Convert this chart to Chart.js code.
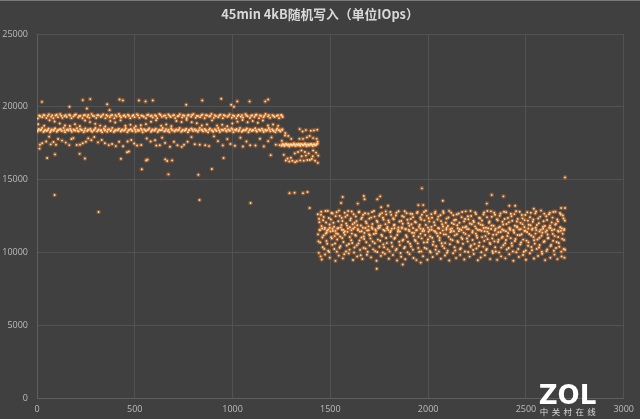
<!DOCTYPE html>
<html lang="zh">
<head>
<meta charset="UTF-8">
<title>45min 4kB随机写入</title>
<script src="https://cdn.jsdelivr.net/npm/chart.js"></script>
<style>
  html, body { margin: 0; padding: 0; background: #404040; }
  #wrap { width: 640px; height: 419px; }
</style>
</head>
<body>
<div id="wrap"><canvas id="chart" width="640" height="419"></canvas></div>
<script>
const titleText = '45min 4kB随机写入（单位IOps）';
const xTicks = [0, 500, 1000, 1500, 2000, 2500, 3000];
const yTicks = [0, 5000, 10000, 15000, 20000, 25000];

// isolated points, read one by one
const highOutliers = [[25,20340],[166,20000],[234,20460],[255,19880],[272,20530],[359,20180],[371,19770],[422,20500],[439,20440],[521,20440],[555,20370],[592,20440],[763,20140],[845,20440],[942,20550],[993,20140],[1007,20000],[1024,20370],[1087,20370],[1167,20370],[1182,20500]];
const lowOutliers = [[13,17130],[52,16480],[92,16730],[218,16770],[245,16450],[429,16430],[460,16880],[470,16930],[558,16320],[565,16370],[536,15710],[656,16390],[666,16280],[691,16320],[672,15360],[825,15330],[894,15730],[954,16480],[1195,16680],[90,13940],[315,12770],[831,13600],[1092,13390],[1291,14070],[1317,14100],[1360,14070],[1383,14150],[1394,13050]];
const blockOutliers = [[1555,13400],[1563,13800],[1640,13350],[1671,13870],[1675,13650],[1740,13650],[1755,13850],[1760,13100],[1795,13200],[1950,13250],[1968,14400],[1975,13250],[2075,13550],[2300,13350],[2325,13950],[2385,13850],[2415,13200],[2445,13200],[2540,13000],[2680,13050],[2700,13050],[2700,15150],[2697,9640],[1737,8880],[1870,9170],[1962,9300]];

// thick band around 18400
const lowerBand = [[2,18300],[9,18480],[17,18380],[26,18540],[33,18270],[42,18430],[50,18340],[59,18510],[67,18250],[75,18450],[84,18360],[93,18530],[101,18290],[110,18410],[118,18480],[127,18330],[136,18550],[144,18260],[153,18420],[161,18370],[170,18500],[178,18280],[187,18440],[196,18350],[204,18530],[213,18300],[221,18470],[230,18390],[239,18260],[247,18520],[256,18340],[264,18430],[273,18490],[282,18280],[290,18380],[299,18540],[307,18310],[316,18450],[325,18360],[333,18250],[342,18510],[350,18400],[359,18290],[368,18470],[376,18340],[385,18550],[393,18270],[402,18420],[411,18380],[419,18500],[428,18300],[436,18440],[445,18350],[454,18530],[462,18260],[471,18410],[479,18480],[488,18320],[497,18550],[505,18290],[514,18430],[522,18370],[531,18510],[540,18250],[548,18460],[557,18340],[565,18400],[574,18530],[583,18290],[591,18440],[600,18360],[608,18500],[617,18270],[626,18420],[634,18390],[643,18540],[651,18310],[660,18470],[669,18340],[677,18260],[686,18510],[694,18400],[703,18300],[712,18450],[720,18370],[729,18540],[737,18280],[746,18430],[755,18350],[763,18490],[772,18260],[780,18410],[789,18520],[798,18330],[806,18460],[815,18380],[823,18290],[832,18550],[841,18420],[849,18310],[858,18480],[866,18360],[875,18250],[884,18510],[892,18400],[901,18290],[909,18470],[918,18340],[927,18540],[935,18270],[944,18430],[952,18380],[961,18500],[970,18300],[978,18440],[987,18350],[995,18530],[1004,18260],[1013,18410],[1021,18480],[1030,18320],[1038,18550],[1047,18290],[1056,18430],[1064,18370],[1073,18510],[1081,18250],[1090,18460],[1099,18340],[1107,18400],[1116,18530],[1124,18290],[1133,18440],[1142,18360],[1150,18500],[1159,18270],[1167,18420],[1176,18390],[1185,18540],[1193,18310],[1202,18470],[1210,18340],[1219,18260],[1228,18510],[1236,18400],[1245,18300],[1253,18450]];
const lowerBandFill = [[5,18400],[21,18420],[38,18360],[55,18410],[71,18350],[88,18440],[105,18380],[122,18420],[140,18370],[157,18440],[174,18390],[191,18410],[208,18360],[225,18430],[243,18380],[260,18400],[277,18350],[294,18440],[312,18390],[329,18410],[346,18370],[363,18430],[380,18400],[398,18360],[415,18420],[432,18380],[450,18430],[467,18370],[484,18400],[501,18420],[518,18360],[536,18410],[553,18390],[570,18440],[587,18370],[604,18420],[622,18380],[639,18400],[656,18360],[673,18430],[690,18400],[708,18380],[725,18420],[742,18360],[759,18410],[776,18390],[794,18440],[811,18370],[828,18400],[845,18420],[862,18380],[880,18430],[897,18360],[914,18410],[931,18390],[948,18420],[966,18370],[983,18400],[1000,18440],[1017,18380],[1034,18410],[1052,18360],[1069,18430],[1086,18390],[1103,18410],[1120,18370],[1138,18420],[1155,18400],[1172,18360],[1189,18430],[1206,18390],[1224,18410],[1241,18370],[1255,18420]];

// upper band around 19300
const upperBand = [[4,19200],[16,19350],[27,19280],[38,19420],[48,19230],[61,19480],[72,19310],[84,19210],[95,19400],[107,19290],[118,19500],[130,19240],[141,19370],[152,19300],[165,19450],[176,19220],[187,19340],[199,19480],[211,19270],[222,19390],[233,19210],[245,19440],[257,19320],[268,19250],[279,19500],[292,19360],[303,19230],[315,19420],[326,19300],[338,19470],[350,19220],[361,19380],[372,19280],[384,19440],[395,19210],[407,19340],[419,19510],[430,19260],[442,19390],[453,19300],[465,19450],[477,19220],[488,19370],[499,19290],[511,19480],[523,19240],[534,19400],[546,19320],[557,19210],[569,19460],[580,19350],[592,19270],[603,19430],[615,19220],[626,19510],[638,19310],[649,19380],[661,19240],[672,19470],[684,19300],[696,19410],[707,19220],[719,19350],[730,19490],[742,19270],[753,19390],[765,19230],[776,19440],[788,19320],[800,19500],[811,19250],[823,19370],[834,19290],[846,19460],[857,19210],[869,19400],[881,19330],[892,19510],[904,19240],[915,19360],[927,19280],[938,19450],[950,19220],[961,19390],[973,19310],[985,19480],[996,19250],[1008,19370],[1019,19210],[1031,19440],[1042,19320],[1054,19270],[1066,19500],[1077,19350],[1089,19230],[1100,19420],[1112,19300],[1123,19460],[1135,19220],[1146,19380],[1158,19280],[1169,19510],[1181,19340],[1192,19240],[1204,19430],[1215,19300],[1227,19390],[1238,19220],[1248,19440],[1256,19300]];
const upperBandFill = [[11,19400],[33,19430],[55,19380],[78,19420],[101,19450],[124,19390],[147,19430],[170,19400],[193,19440],[216,19370],[239,19410],[262,19440],[285,19390],[308,19420],[331,19380],[355,19440],[378,19400],[401,19430],[424,19370],[447,19420],[470,19390],[493,19440],[517,19410],[540,19380],[563,19430],[586,19400],[609,19370],[632,19440],[655,19410],[678,19390],[701,19430],[724,19370],[747,19420],[770,19400],[793,19440],[817,19380],[840,19410],[863,19430],[886,19370],[909,19420],[932,19400],[955,19440],[979,19390],[1002,19410],[1025,19370],[1048,19430],[1071,19400],[1094,19380],[1117,19440],[1140,19410],[1163,19390],[1186,19430],[1209,19370],[1232,19420],[1252,19400]];

// loose points between the two bands
const midPoints = [[6,18800],[37,18700],[64,19080],[90,18990],[116,18850],[143,18720],[168,18680],[194,18800],[219,18670],[246,19060],[271,18950],[298,18830],[323,18710],[349,18650],[375,19030],[400,18920],[427,19070],[452,18700],[478,18770],[505,18660],[531,18730],[557,18810],[583,18970],[609,19080],[635,18700],[661,18780],[687,18670],[713,19020],[739,18960],[765,19100],[791,18940],[817,18870],[843,18720],[869,18780],[895,19070],[921,18710],[947,18770],[973,18660],[999,18850],[1025,18980],[1051,19090],[1077,18940],[1103,19020],[1129,18900],[1155,19060],[1181,18720],[1207,18780],[1233,18690]];

// lower cloud, 17200 to 18100
const lowCloud = [[15,17400],[27,17500],[47,17620],[62,17950],[70,17420],[84,17580],[97,17400],[108,17790],[128,17680],[147,17540],[165,17370],[176,17790],[186,17850],[203,17380],[220,17400],[234,17500],[250,17600],[262,17830],[278,17710],[293,17930],[312,17560],[331,17720],[347,17500],[367,17370],[384,17440],[403,17300],[420,17600],[440,17290],[463,17620],[482,17720],[497,17480],[512,17340],[533,17380],[561,17820],[581,17620],[604,17700],[610,17340],[628,17360],[640,17880],[655,17520],[680,17260],[700,17600],[718,17360],[740,17250],[752,17390],[770,17600],[790,17920],[807,17430],[832,17400],[860,17360],[880,17300],[905,17970],[925,17640],[950,17350],[973,17780],[989,17440],[1012,17320],[1040,17880],[1053,17270],[1071,17620],[1090,17360],[1117,17340],[1140,17810],[1160,17280],[1182,17640],[1199,17900],[1221,17400],[1240,17370],[1252,17660],[1268,18030]];

// step between 1250 and 1440
const stepFlat = [[1250,17320],[1254,17400],[1258,17440],[1262,17360],[1266,17300],[1270,17410],[1274,17470],[1278,17390],[1282,17360],[1286,17430],[1290,17270],[1294,17380],[1298,17430],[1302,17390],[1306,17340],[1310,17420],[1314,17490],[1318,17380],[1322,17300],[1326,17430],[1330,17400],[1334,17360],[1338,17460],[1342,17390],[1346,17310],[1350,17440],[1354,17420],[1358,17370],[1362,17350],[1366,17430],[1370,17480],[1374,17390],[1378,17290],[1382,17420],[1386,17410],[1390,17350],[1394,17360],[1398,17440],[1402,17450],[1406,17380],[1410,17300],[1414,17420],[1418,17430],[1422,17360],[1426,17370],[1430,17440],[1434,17470]];
const stepCloud = [[1262,16700],[1272,16310],[1281,16450],[1290,16240],[1298,16500],[1306,16290],[1318,16800],[1329,16270],[1335,16900],[1343,18470],[1346,16320],[1352,17000],[1358,18300],[1364,16300],[1370,16900],[1375,18400],[1382,16350],[1389,16800],[1394,18000],[1400,18350],[1405,16420],[1412,17000],[1416,18380],[1422,16300],[1427,16850],[1430,17800],[1433,18420],[1436,16150],[1438,16650],[1320,16200],[1353,16600],[1375,16650],[1395,16350],[1410,16600],[1300,17800],[1285,18000],[1270,18200],[1342,17800],[1360,17800],[1380,17900],[1412,17850],[1435,17600]];

// main lower block, 1440 to 2700
const blockA = [[1436,12620],[1437,11240],[1441,9970],[1442,12310],[1447,11530],[1448,10680],[1453,12790],[1455,11810],[1456,9510],[1461,10350],[1465,11160],[1466,12430],[1472,11690],[1473,9860],[1478,12050],[1480,10790],[1481,11370],[1487,12850],[1489,10110],[1490,11580],[1496,11920],[1497,9640],[1503,12260],[1504,11040],[1510,10520],[1511,12680],[1513,11470],[1519,11760],[1520,10230],[1526,9420],[1527,12490],[1529,11310],[1535,10890],[1536,11640],[1541,12140],[1543,9780],[1544,12870],[1550,11090],[1551,10430],[1557,11880],[1558,12370],[1564,9590],[1566,11550],[1567,10710],[1573,12720],[1574,11220],[1580,10060],[1581,11990],[1587,12560],[1588,11410],[1594,9930],[1595,10580],[1600,11730],[1602,12210],[1607,10840],[1609,12810],[1610,11290],[1616,9480],[1617,11620],[1623,10340],[1624,12040],[1630,12470],[1631,11150],[1637,9720],[1638,11860],[1644,10610],[1645,12750],[1651,11430],[1652,10170],[1658,12290],[1659,11020],[1664,9550],[1666,11700],[1667,12580],[1673,10920],[1674,11340],[1680,10260],[1681,12120],[1687,9840],[1688,11510],[1694,12660],[1695,11790],[1701,10470],[1702,11180],[1708,9660],[1709,12390],[1715,11950],[1716,10750],[1722,11260],[1723,12840],[1729,10090],[1730,11570],[1736,9430],[1737,12180],[1743,10880],[1744,11660],[1750,12510],[1751,10390],[1757,11840],[1758,9760],[1764,12700],[1765,11120],[1771,10550],[1772,12250],[1778,11490],[1779,9900],[1785,10990],[1786,12610],[1792,11740],[1793,10210],[1799,9570],[1800,12060],[1806,11380],[1807,12770],[1813,10660],[1814,11630],[1820,9820],[1821,12340],[1827,10940],[1828,11900],[1834,10140],[1835,12530],[1841,9450],[1842,11200],[1848,11710],[1849,12830],[1855,10500],[1856,11440],[1862,9700],[1863,12160],[1869,10810],[1870,11970],[1876,12440],[1877,10290],[1883,9530],[1884,11590],[1890,12690],[1891,11060],[1897,10730],[1898,12010],[1904,11830],[1905,9880],[1911,12300],[1912,10410],[1918,11350],[1919,12640],[1925,9620],[1926,11130],[1932,10860],[1933,12110],[1939,11520],[1940,9470],[1946,12780],[1947,10620],[1953,11770],[1954,10040],[1960,12400],[1961,11280]];
const blockB = [[1967,10960],[1968,12590],[1974,9740],[1975,11610],[1981,12200],[1982,10320],[1988,11890],[1989,12860],[1995,10700],[1996,9500],[2002,11420],[2003,12350],[2009,10080],[2010,11100],[2016,12630],[2017,11750],[2023,9680],[2024,10530],[2030,12070],[2031,11480],[2037,12800],[2038,10190],[2044,11320],[2045,9910],[2051,11680],[2052,12460],[2058,10830],[2059,11000],[2065,9560],[2066,12150],[2072,11930],[2073,10440],[2079,12710],[2080,11240],[2086,9790],[2087,10640],[2093,11560],[2094,12320],[2100,10120],[2101,11810],[2107,12850],[2108,9440],[2114,11390],[2115,10900],[2121,12020],[2122,11650],[2128,9950],[2129,12550],[2135,10360],[2136,11170],[2142,12240],[2143,9610],[2149,11860],[2150,10770],[2156,12670],[2157,11460],[2163,10220],[2164,9830],[2170,11030],[2171,12420],[2177,11720],[2178,10590],[2184,12130],[2185,9520],[2191,11270],[2192,12820],[2198,10950],[2199,11600],[2205,10030],[2206,12280],[2212,9710],[2213,11980],[2219,10480],[2220,12500],[2226,11360],[2227,10850],[2233,9890],[2234,12090],[2240,11790],[2241,12740],[2247,10270],[2248,11140],[2254,9460],[2255,11540],[2261,12380],[2262,10680],[2268,11910],[2269,9650],[2275,12190],[2276,11050],[2282,10400],[2283,12600],[2289,11450],[2290,9800],[2296,11700],[2297,10160],[2303,12840],[2304,10910],[2310,11300],[2311,12040],[2317,9540],[2318,10570],[2324,11850],[2325,12450],[2331,9960],[2332,11210],[2338,12730],[2339,10760],[2345,11620],[2346,10060],[2352,12270],[2353,9490],[2359,11380],[2360,10870],[2366,12520],[2367,11770],[2373,9730],[2374,10330],[2380,12100],[2381,11080],[2387,11510],[2388,12790],[2394,10630],[2395,9590],[2401,11950],[2402,10200],[2408,12360],[2409,11330],[2415,9870],[2416,11670],[2422,10980],[2423,12650],[2429,10450],[2430,12170],[2436,9430],[2437,11490],[2443,11830],[2444,10780],[2450,12830],[2451,10010],[2457,11190],[2458,12300],[2464,9690],[2465,11580],[2471,10540],[2472,12030],[2478,11250],[2479,12570],[2485,9820],[2486,10880],[2492,11740],[2493,12220],[2499,10130],[2500,9500],[2506,11400],[2507,12760],[2513,10690],[2514,11900],[2520,9940],[2521,12410],[2527,11160],[2528,10370],[2534,11640],[2535,12110],[2541,9580],[2542,10830],[2548,12680],[2549,11290],[2555,10240],[2556,11880],[2562,9760],[2563,12330],[2569,11010],[2570,10510],[2576,11550],[2577,12870],[2583,9910],[2584,11350],[2590,12140],[2591,10720],[2597,11810],[2598,9470],[2604,12480],[2605,10090],[2611,11230],[2612,10970],[2618,12620],[2619,11690],[2625,9630],[2626,10420],[2632,12060],[2633,11520],[2639,10800],[2640,12780],[2646,9850],[2647,11120],[2653,11960],[2654,10300],[2660,12260],[2661,9540],[2667,11430],[2668,10650],[2674,12710],[2675,11730],[2681,10050],[2682,9720],[2688,11280],[2689,12540],[2695,10860],[2696,11600],[2699,12180],[2700,10180]];
// second pass over the block, it is far denser than one row of dots
const blockC = [[1439,10760],[1444,12070],[1450,9730],[1452,12580],[1459,11020],[1463,12210],[1469,10240],[1475,12840],[1477,11290],[1484,10590],[1492,12360],[1494,10030],[1500,11440],[1506,12710],[1508,10960],[1516,12040],[1522,11120],[1524,10610],[1532,12760],[1533,10050],[1539,11260],[1547,10320],[1548,12510],[1553,11720],[1561,10990],[1562,12160],[1569,11360],[1571,9880],[1577,12440],[1584,10470],[1585,11840],[1591,12840],[1598,10190],[1599,11060],[1605,12340],[1612,10650],[1614,11930],[1619,12620],[1621,9990],[1627,11200],[1634,12150],[1635,10480],[1641,11520],[1648,12800],[1649,10820],[1655,9800],[1656,11850],[1662,12390],[1670,10310],[1671,11090],[1677,12690],[1684,10700],[1685,12000],[1691,10040],[1698,11240],[1699,12320],[1705,10960],[1712,11730],[1713,12770],[1719,10210],[1726,12460],[1727,10630],[1733,11310],[1740,10030],[1741,12090],[1747,11820],[1754,12620],[1755,10800],[1761,11210],[1768,9990],[1769,12380],[1775,10350],[1782,11940],[1783,12820],[1789,10640],[1796,11530],[1797,12190],[1803,10070],[1810,11100],[1811,12580],[1817,10410],[1824,12270],[1825,11860],[1831,11010],[1838,12720],[1839,10240],[1845,11420],[1852,10730],[1853,12120],[1859,9960],[1866,11670],[1867,12500],[1873,10880],[1880,12830],[1881,10370],[1887,11180],[1894,12240],[1895,10010],[1901,11560],[1908,10590],[1909,12660],[1915,11930],[1922,10180],[1923,12420],[1929,11340],[1936,10780],[1937,12060],[1943,12700],[1950,10310],[1951,11080],[1957,11900],[1964,12260],[1965,10070],[1971,11450],[1978,10680],[1979,12780],[1985,11190],[1992,10250],[1993,12510],[1999,10890],[2006,12130],[2007,11550],[2013,9990],[2020,12380],[2021,11010],[2027,10740],[2034,11870],[2035,12690],[2041,10420],[2048,12260],[2049,11130],[2055,10060],[2062,11330],[2063,12560],[2069,10630],[2076,11780],[2077,12830],[2083,10280],[2090,12040],[2091,11240],[2097,9980],[2104,12400],[2105,11080],[2111,10560],[2118,12720],[2119,11470],[2125,10830],[2132,11940],[2133,12210],[2139,10130],[2146,12610],[2147,11250],[2153,10690],[2160,12040],[2161,11590],[2167,10290],[2174,12770],[2175,10920],[2181,11360],[2188,10060],[2189,12290],[2195,11780],[2202,10750],[2203,12480],[2209,11150],[2216,10380],[2217,12840],[2223,11930],[2230,10160],[2231,12180],[2237,10580],[2244,11290],[2245,12630],[2251,11010],[2258,12000],[2259,10440],[2265,12350],[2272,10010],[2273,11480],[2279,11870],[2286,12740],[2287,10790],[2293,11120],[2300,10240],[2301,12410],[2307,11660],[2314,12130],[2315,10650],[2321,12820],[2328,10960],[2329,10090],[2335,11830],[2342,12590],[2343,10350],[2349,11230],[2356,12200],[2357,10720],[2363,10000],[2370,12680],[2371,11400],[2377,11000],[2384,11920],[2385,10490],[2391,12290],[2398,10850],[2399,12760],[2405,11130],[2412,10300],[2413,12070],[2419,11560],[2426,12480],[2427,10630],[2433,10070],[2440,11350],[2441,12630],[2447,10920],[2454,12120],[2455,11780],[2461,10230],[2468,12790],[2469,11180],[2475,10680],[2482,12340],[2483,11940],[2489,10040],[2496,11490],[2497,12570],[2503,10810],[2510,12180],[2511,10460],[2517,11260],[2524,11860],[2525,12720],[2531,10150],[2538,12260],[2539,11060],[2545,10600],[2552,12810],[2553,11530],[2559,10890],[2566,12000],[2567,10340],[2573,12460],[2580,11140],[2581,10050],[2587,11770],[2594,12660],[2595,10770],[2601,11410],[2608,12230],[2609,10200],[2615,10990],[2622,12730],[2623,11840],[2629,10520],[2636,12390],[2637,11270],[2643,10110],[2650,11910],[2651,12800],[2657,10710],[2664,12130],[2665,11060],[2671,10390],[2678,12600],[2679,11480],[2685,10930],[2692,12330],[2693,10240]];
// the densest stretch of the block sits near 11600
const blockDense = [[1445,11550],[1458,11650],[1470,11600],[1484,11500],[1497,11700],[1511,11620],[1526,11480],[1541,11680],[1559,11560],[1574,11450],[1590,11640],[1607,11530],[1624,11720],[1641,11600],[1660,11450],[1679,11680],[1696,11520],[1715,11620],[1733,11480],[1752,11700],[1771,11560],[1790,11640],[1809,11470],[1828,11660],[1847,11540],[1866,11720],[1885,11600],[1904,11460],[1923,11680],[1942,11530],[1961,11630],[1980,11480],[1999,11700],[2018,11560],[2037,11420],[2056,11640],[2075,11510],[2094,11680],[2113,11590],[2132,11450],[2151,11660],[2170,11530],[2189,11720],[2208,11600],[2227,11470],[2246,11640],[2265,11550],[2284,11680],[2303,11430],[2322,11610],[2341,11500],[2360,11700],[2379,11570],[2398,11460],[2417,11650],[2436,11530],[2455,11720],[2474,11600],[2493,11480],[2512,11640],[2531,11550],[2550,11690],[2569,11440],[2588,11620],[2607,11510],[2626,11680],[2645,11570],[2664,11480],[2683,11650],[2695,11540]];

const allPoints = [].concat(highOutliers, lowOutliers, blockOutliers, lowerBand, lowerBandFill, upperBand, upperBandFill, midPoints, lowCloud, stepFlat, stepCloud, blockA, blockB, blockC, blockDense)
  .map(p => ({ x: p[0], y: p[1] }));

// title, ZOL mark and the light line on the top edge
const decorPlugin = {
  id: 'decor',
  beforeDraw(chart) {
    const ctx = chart.ctx;
    ctx.fillStyle = '#7a7a7a';
    ctx.fillRect(0, 0, 640, 1);
  },
  afterDraw(chart) {
    const ctx = chart.ctx;
    ctx.save();
    ctx.textAlign = 'center';
    ctx.textBaseline = 'alphabetic';
    ctx.fillStyle = '#d9d9d9';
    ctx.font = 'bold 12.8px "Noto Sans CJK SC"';
    ctx.fillText(titleText, 320, 19);
    ctx.fillStyle = '#ffffff';
    ctx.font = 'bold 26px "DejaVu Sans"';
    ctx.fillText('ZOL', 567.5, 404);
    ctx.fillStyle = '#d8d8d8';
    ctx.font = '8.5px "Noto Sans CJK SC"';
    ctx.letterSpacing = '3.4px';
    ctx.fillText('中关村在线', 569.5, 414.5);
    ctx.restore();
  }
};

new Chart(document.getElementById('chart'), {
  type: 'scatter',
  data: {
    datasets: [
      // dots on top, soft orange halo underneath
      { data: allPoints, backgroundColor: '#ffd9a8', borderWidth: 0, pointRadius: 0.95, order: 1 },
      { data: allPoints, backgroundColor: 'rgba(232,120,38,0.42)', borderWidth: 0, pointRadius: 2.3, order: 2 }
    ]
  },
  plugins: [decorPlugin],
  options: {
    responsive: false,
    animation: false,
    layout: { padding: { top: 34, right: 16, bottom: 0, left: 0 } },
    plugins: {
      legend: { display: false },
      tooltip: { enabled: false },
      title: { display: false }
    },
    scales: {
      x: {
        type: 'linear',
        min: 0,
        max: 3000,
        afterBuildTicks(axis) { axis.ticks = xTicks.map(v => ({ value: v })); },
        afterFit(axis) { axis.height = 21; },
        grid: { color: '#525252', drawTicks: false },
        border: { color: '#5e5e5e' },
        ticks: { color: '#bdbdbd', font: { family: '"Open Sans"', size: 9 }, maxRotation: 0, padding: 6, callback: v => String(v) }
      },
      y: {
        min: 0,
        max: 25000,
        afterBuildTicks(axis) { axis.ticks = yTicks.map(v => ({ value: v })); },
        afterFit(axis) { axis.width = 37; },
        grid: { color: '#525252', drawTicks: false },
        border: { color: '#5e5e5e' },
        ticks: { color: '#bdbdbd', font: { family: '"Open Sans"', size: 9 }, padding: 9, callback: v => String(v) }
      }
    }
  }
});
</script>
</body>
</html>
